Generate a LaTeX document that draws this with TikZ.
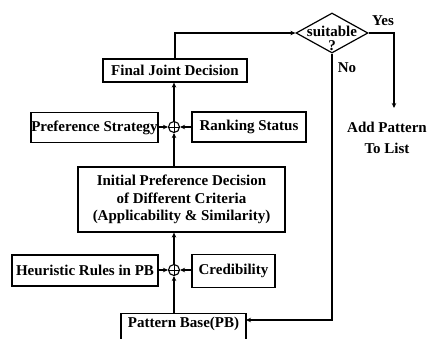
\documentclass[tikz,border=0pt]{standalone}
\usepackage{fontspec}
\setmainfont{Liberation Serif}
\usetikzlibrary{arrows.meta,shapes.geometric}
\begin{document}
\begin{tikzpicture}[x=1pt,y=-1pt,
  box/.style={draw,line width=1.2pt,inner sep=0pt,font=\bfseries\fontsize{15}{17.5}\selectfont,align=center},
  sumnode/.style={draw,circle,line width=1.1pt,minimum size=11pt,inner sep=0pt,
    path picture={\draw[line width=0.9pt] (path picture bounding box.north) -- (path picture bounding box.south)
      (path picture bounding box.west) -- (path picture bounding box.east);}},
  link/.style={line width=1.5pt,-{Stealth[length=5pt,width=4.5pt]}},
  lbl/.style={font=\bfseries\fontsize{15}{17.5}\selectfont,align=center,inner sep=0pt}]
\useasboundingbox (0,0) rectangle (428,338);
\clip (0,0) rectangle (428,338);
\fill[white] (0,0) rectangle (428,338);

\node[box,minimum width=144pt,minimum height=23pt] (final) at (175,70.5) {Final Joint Decision};
\node[box,minimum width=127pt,minimum height=30pt] (pref) at (94.5,127.5) {Preference Strategy};
\node[box,minimum width=114pt,minimum height=30pt] (rank) at (249,127) {Ranking Status};
\node[sumnode] (s1) at (174,127) {};
\node[box,minimum width=207pt,minimum height=65pt] (init) at (181.5,199.5) {Initial Preference Decision\\of Different Criteria\\(Applicability \& Similarity)};
\node[box,minimum width=146pt,minimum height=31pt] (heur) at (85,270.5) {Heuristic Rules in PB};
\node[box,minimum width=83pt,minimum height=33pt] (cred) at (233.5,271) {Credibility};
\node[sumnode] (s2) at (174,270) {};
\node[box,anchor=north,minimum width=125pt,inner sep=3pt,text height=11pt,text depth=30pt] (pb) at (183.5,313) {Pattern Base(PB)};

\node[draw,diamond,line width=1.2pt,minimum width=72pt,minimum height=40pt,inner sep=0pt] (dec) at (332,33) {};
\node[lbl,font=\bfseries\fontsize{15}{14}\selectfont] (dectext) at (332,38) {suitable\\?};
\node[lbl] (yes) at (383,21) {Yes};
\node[lbl] (no) at (347,68) {No};
\node[lbl,font=\bfseries\fontsize{15}{21}\selectfont] (add) at (387,137.5) {Add Pattern\\To List};

\coordinate (yesend) at (394,108);
\coordinate (pbin) at (246,320);

\draw[link] (s2 |- pb.north) -- (s2.south);
\draw[link] (heur.east |- s2) -- (s2.west);
\draw[link] (cred.west |- s2) -- (s2.east);
\draw[link] (s2.north) -- (s2 |- init.south);
\draw[link] (s1 |- init.north) -- (s1.south);
\draw[link] (pref.east |- s1) -- (s1.west);
\draw[link] (rank.west |- s1) -- (s1.east);
\draw[link] (s1.north) -- (s1 |- final.south);
\draw[link] (final.north) |- (dec.west);
\draw[link] (dec.east) -| (yesend);
\draw[link] (dec.south) |- (pbin);
\end{tikzpicture}
\end{document}
